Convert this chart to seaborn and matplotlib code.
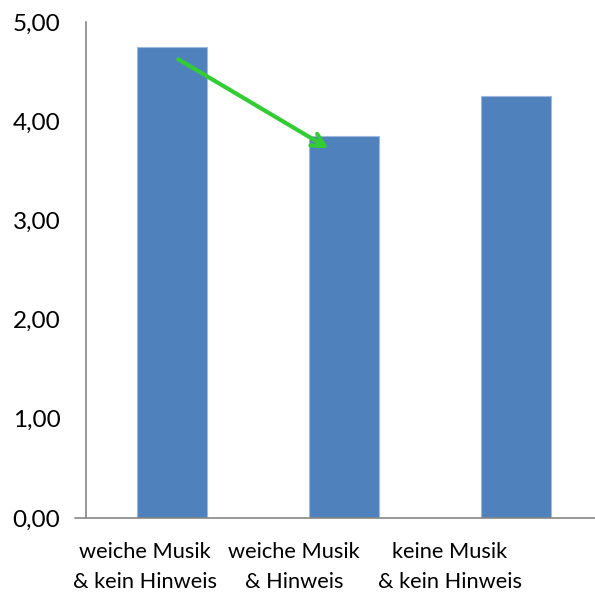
import matplotlib
matplotlib.use("Agg")
import matplotlib.pyplot as plt
import matplotlib.transforms as mtransforms
import seaborn as sns
import pandas as pd

# Data
categories = ["weiche Musik\n& kein Hinweis", "weiche Musik\n& Hinweis", "keine Musik\n& kein Hinweis"]
values = [4.75, 3.85, 4.25]
yticks = [0, 1, 2, 3, 4, 5]
ytick_labels = ["0,00", "1,00", "2,00", "3,00", "4,00", "5,00"]

sns.set_theme(style="white")
plt.rcParams["font.family"] = ["Lato", "DejaVu Sans"]

W, H = 595, 594
fig = plt.figure(figsize=(W / 100, H / 100), dpi=100)
ax = fig.add_axes([86 / W, (H - 518) / H, 516 / W, (518 - 22) / H])

df = pd.DataFrame({"cat": categories, "val": values})
sns.barplot(data=df, x="cat", y="val", color="#4F81BD", saturation=1,
            width=0.405, edgecolor="#9DB9DE", linewidth=0.8, ax=ax)

ax.set_xlim(-0.5, 2.5)
ax.set_ylim(0, 5)
ax.set_yticks(yticks)
ax.set_yticklabels(ytick_labels, fontsize=17.5, color="#000000")
ax.tick_params(axis="y", length=0, pad=18.5)
ax.set_xticks([])
ax.set_xlabel("")
ax.set_ylabel("")

for s in ["top", "right", "bottom"]:
    ax.spines[s].set_visible(False)
ax.spines["left"].set_color("#868686")
ax.spines["left"].set_linewidth(1.2)
ax.axhline(0, xmin=-11 / 516, xmax=1, color="#868686", lw=1.2, clip_on=False)

# Category labels below the axis
trans = mtransforms.blended_transform_factory(ax.transData, ax.transAxes)
label_x = [-0.157, 0.709, 1.616]
for x, lab in zip(label_x, categories):
    ax.text(x, -0.048, lab, transform=trans, ha="center", va="top",
            fontsize=15.7, linespacing=1.62, color="#000000")

# Green arrow between the first two bars
ax.annotate("", xy=(0.909, 3.727), xytext=(0.037, 4.624),
            arrowprops=dict(arrowstyle="->,head_length=0.75,head_width=0.4",
                            color="#33CC33", lw=3.0, shrinkA=0, shrinkB=0))

fig.savefig("out.png", dpi=100)
